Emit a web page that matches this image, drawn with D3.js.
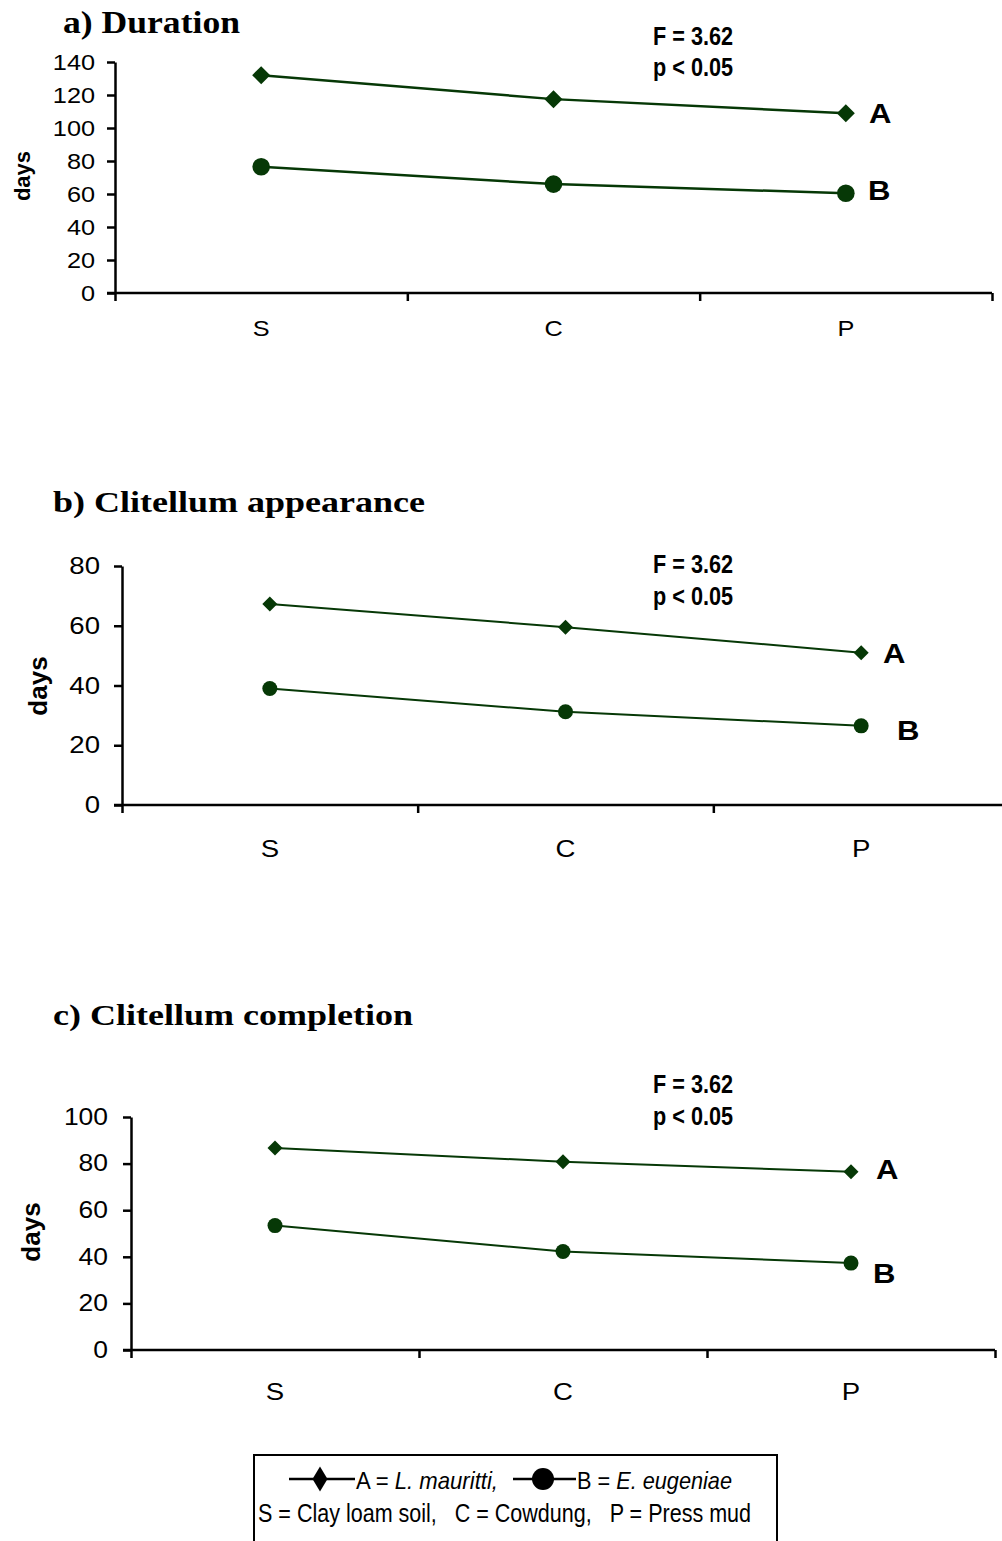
<!DOCTYPE html>
<html>
<head>
<meta charset="utf-8">
<script src="https://cdn.jsdelivr.net/npm/d3@7"></script>
<style>
  html, body { margin: 0; padding: 0; background: #fff; }
  svg { display: block; }
</style>
</head>
<body>
<svg id="chart" width="1002" height="1541"></svg>
<script>
// Substrates (x categories)
const categories = ["S", "C", "P"];

// a) Duration (days)
const durationA = [132, 117.5, 109];
const durationB = [76.5, 66, 60.5];
const durationTicks = [0, 20, 40, 60, 80, 100, 120, 140];

// b) Clitellum appearance (days)
const appearanceA = [67.3, 59.5, 51];
const appearanceB = [39, 31.2, 26.5];
const appearanceTicks = [0, 20, 40, 60, 80];

// c) Clitellum completion (days)
const completionA = [86.7, 80.8, 76.5];
const completionB = [53.4, 42.3, 37.3];
const completionTicks = [0, 20, 40, 60, 80, 100];

const statLines = ["F = 3.62", "p < 0.05"];
const seriesNames = ["A", "B"];

const GREEN = "#063806";
const SANS = "'Liberation Sans', Arial, sans-serif";
const SERIF = "'Liberation Serif', 'Times New Roman', serif";
const STRETCH = 1.15;

const svg = d3.select("#chart");
svg.append("rect").attr("width", 1002).attr("height", 1541).attr("fill", "#fff");

const panels = [
  {
    title: "a) Duration", titleX: 63, titleBase: 33, titleSize: 32, titleLen: 177,
    a: durationA, b: durationB, ticks: durationTicks, max: 140,
    left: 115, right: 992, top: 62, bottom: 293,
    tickFont: 22, tickGap: 20, catFont: 22, catBase: 336,
    daysX: 22, daysY: 176, daysFont: 22,
    stroke: 2.5, diamond: 9, radius: 8.8,
    statX: 653, statBase: [45, 76],
    labA: [869, 123], labB: [868, 200]
  },
  {
    title: "b) Clitellum appearance", titleX: 53, titleBase: 512, titleSize: 30, titleLen: 372,
    a: appearanceA, b: appearanceB, ticks: appearanceTicks, max: 80,
    left: 122, right: 1009, top: 566, bottom: 805,
    tickFont: 24, tickGap: 22, catFont: 24, catBase: 857,
    daysX: 38, daysY: 686, daysFont: 26,
    stroke: 2, diamond: 7.5, radius: 7.5,
    statX: 653, statBase: [573, 605],
    labA: [883, 663], labB: [897, 740]
  },
  {
    title: "c) Clitellum completion", titleX: 53, titleBase: 1025, titleSize: 30, titleLen: 360,
    a: completionA, b: completionB, ticks: completionTicks, max: 100,
    left: 131, right: 995, top: 1117, bottom: 1350,
    tickFont: 23, tickGap: 23, catFont: 24, catBase: 1400,
    daysX: 31, daysY: 1232, daysFont: 26,
    stroke: 2, diamond: 7.5, radius: 7.5,
    statX: 653, statBase: [1093, 1125],
    labA: [876, 1179], labB: [873, 1283]
  }
];

function diamondPath(h) {
  return `M0,${-h}L${h},0L0,${h}L${-h},0Z`;
}

panels.forEach(p => {
  const g = svg.append("g");

  // title
  g.append("text")
    .attr("x", p.titleX).attr("y", p.titleBase)
    .attr("font-family", SERIF).attr("font-weight", "bold")
    .attr("font-size", p.titleSize)
    .attr("textLength", p.titleLen).attr("lengthAdjust", "spacingAndGlyphs")
    .text(p.title);

  const x = d3.scaleBand().domain(categories).range([p.left, p.right]).padding(0);
  const xEdges = d3.scaleLinear().domain([0, categories.length]).range([p.left, p.right]);
  const y = d3.scaleLinear().domain([0, p.max]).range([p.bottom, p.top]);
  const cx = c => x(c) + x.bandwidth() / 2;

  // y axis
  const tickSize = 8;
  const yAxis = g.append("g")
    .attr("transform", `translate(${p.left},0)`)
    .call(d3.axisLeft(y).tickValues(p.ticks).tickSize(tickSize)
      .tickPadding(p.tickGap / STRETCH - tickSize).tickSizeOuter(0));
  yAxis.select(".domain").attr("stroke", "#000").attr("stroke-width", 2.5);
  yAxis.selectAll(".tick line").attr("stroke", "#000").attr("stroke-width", 2.5);
  yAxis.selectAll(".tick text")
    .attr("font-family", SANS).attr("font-size", p.tickFont).attr("fill", "#000")
    .attr("transform", `scale(${STRETCH},1)`);

  // x axis: boundary ticks
  const xAxis = g.append("g")
    .attr("transform", `translate(0,${p.bottom})`)
    .call(d3.axisBottom(xEdges).tickValues(d3.range(categories.length + 1))
      .tickSize(tickSize).tickSizeOuter(0).tickFormat(""));
  xAxis.select(".domain").attr("stroke", "#000").attr("stroke-width", 2.5)
    .attr("d", `M${p.left - tickSize},0H${p.right}`);
  xAxis.selectAll(".tick line").attr("stroke", "#000").attr("stroke-width", 2.5);

  // category labels
  const catAxis = g.append("g")
    .attr("transform", `translate(0,${p.catBase})`)
    .call(d3.axisBottom(x).tickSize(0).tickPadding(0));
  catAxis.select(".domain").remove();
  catAxis.selectAll(".tick text")
    .attr("font-family", SANS).attr("font-size", p.catFont).attr("fill", "#000")
    .attr("dy", 0).attr("y", 0)
    .attr("transform", `scale(${STRETCH},1)`);

  // y label
  g.append("text")
    .attr("transform", `translate(${p.daysX},${p.daysY}) rotate(-90)`)
    .attr("text-anchor", "middle").attr("dominant-baseline", "central")
    .attr("font-family", SANS).attr("font-weight", "bold").attr("font-size", p.daysFont)
    .text("days");

  // series lines
  const line = d3.line().x((d, i) => cx(categories[i])).y(d => y(d));
  [p.a, p.b].forEach(vals => {
    g.append("path").datum(vals)
      .attr("d", line).attr("fill", "none")
      .attr("stroke", GREEN).attr("stroke-width", p.stroke);
  });

  // markers
  g.selectAll(".mkA").data(p.a).join("path")
    .attr("transform", (d, i) => `translate(${cx(categories[i])},${y(d)})`)
    .attr("d", diamondPath(p.diamond)).attr("fill", GREEN);
  g.selectAll(".mkB").data(p.b).join("circle")
    .attr("cx", (d, i) => cx(categories[i])).attr("cy", d => y(d))
    .attr("r", p.radius).attr("fill", GREEN);

  // statistics
  statLines.forEach((s, i) => {
    g.append("text")
      .attr("x", p.statX).attr("y", p.statBase[i])
      .attr("font-family", "'Liberation Sans Narrow', 'Arial Narrow', " + SANS)
      .attr("font-weight", "bold").attr("font-size", 25)
      .attr("textLength", 80).attr("lengthAdjust", "spacingAndGlyphs")
      .text(s);
  });

  // series letters
  [p.labA, p.labB].forEach((pos, i) => {
    g.append("text")
      .attr("transform", `translate(${pos[0]},${pos[1]}) scale(${STRETCH},1)`)
      .attr("font-family", SANS).attr("font-weight", "bold").attr("font-size", 27)
      .text(seriesNames[i]);
  });
});

// legend
const lg = svg.append("g");
lg.append("path")
  .attr("d", "M254,1545V1455H777V1545")
  .attr("fill", "none").attr("stroke", "#000").attr("stroke-width", 2);

const legendY = 1479;
const NARROW = "'Liberation Sans Narrow', 'Arial Narrow', " + SANS;
lg.append("line").attr("x1", 289).attr("x2", 355).attr("y1", legendY).attr("y2", legendY)
  .attr("stroke", "#000").attr("stroke-width", 2.5);
lg.append("path").attr("transform", `translate(320,${legendY})`)
  .attr("d", "M0,-12.5L7.5,0L0,12.5L-7.5,0Z").attr("fill", "#000");
lg.append("line").attr("x1", 513).attr("x2", 576).attr("y1", legendY).attr("y2", legendY)
  .attr("stroke", "#000").attr("stroke-width", 2.5);
lg.append("circle").attr("cx", 543).attr("cy", legendY).attr("r", 11).attr("fill", "#000");

const tA = lg.append("text").attr("x", 356).attr("y", 1489)
  .attr("font-family", NARROW).attr("font-size", 24)
  .attr("textLength", 142).attr("lengthAdjust", "spacingAndGlyphs");
tA.append("tspan").text("A = ");
tA.append("tspan").attr("font-style", "italic").text("L. mauritti,");

const tB = lg.append("text").attr("x", 577).attr("y", 1489)
  .attr("font-family", NARROW).attr("font-size", 24)
  .attr("textLength", 155).attr("lengthAdjust", "spacingAndGlyphs");
tB.append("tspan").text("B = ");
tB.append("tspan").attr("font-style", "italic").text("E. eugeniae");

lg.append("text").attr("x", 258).attr("y", 1522)
  .attr("font-family", NARROW).attr("font-size", 26)
  .attr("textLength", 493).attr("lengthAdjust", "spacingAndGlyphs")
  .attr("xml:space", "preserve").style("white-space", "pre")
  .text("S = Clay loam soil,   C = Cowdung,   P = Press mud");
</script>
</body>
</html>
